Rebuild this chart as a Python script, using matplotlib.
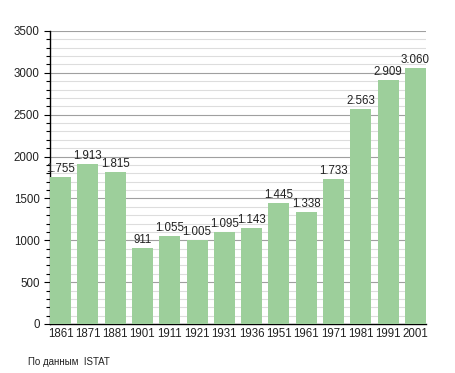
import matplotlib
matplotlib.use("Agg")
import matplotlib.pyplot as plt
from matplotlib.ticker import MultipleLocator

years = ["1861", "1871", "1881", "1901", "1911", "1921", "1931", "1936",
         "1951", "1961", "1971", "1981", "1991", "2001"]
population = [1755, 1913, 1815, 911, 1055, 1005, 1095, 1143,
              1445, 1338, 1733, 2563, 2909, 3060]
source_note = "По данным  ISTAT"

plt.rcParams['font.family'] = ['Liberation Sans', 'DejaVu Sans']

fig = plt.figure(figsize=(4.55, 3.73), dpi=100)
ax = fig.add_axes([50/455, 49/373, 376/455, 293/373])

w = 0.77
pos = range(len(years))
ax.bar(pos, population, width=w, color="#9dcf9b", zorder=3)
for x, v in zip(pos, population):
    lbl = f"{v:,}".replace(",", ".")
    ax.text(x, v + 25, lbl, ha="center", va="bottom", fontsize=8.3, color="#222222", zorder=4)

ax.set_xlim(-w/2, len(years) - 1 + w/2)
ax.set_ylim(0, 3500)
ax.set_xticks(list(pos))
ax.set_xticklabels(years, fontsize=8.3, color="#222222")
ax.yaxis.set_major_locator(MultipleLocator(500))
ax.yaxis.set_minor_locator(MultipleLocator(100))
ax.tick_params(axis="y", labelsize=8.3, labelcolor="#222222", length=4, width=0.8)
ax.tick_params(axis="y", which="minor", length=3, width=0.8)
ax.tick_params(axis="x", length=0, pad=3)
ax.grid(axis="y", which="major", color="#a0a0a0", lw=0.8, zorder=1)
ax.grid(axis="y", which="minor", color="#dddddd", lw=0.8, zorder=1)
for s in ["top", "right"]:
    ax.spines[s].set_visible(False)
ax.spines["left"].set_linewidth(1)
ax.spines["bottom"].set_linewidth(1)

fig.text(28/455, 1 - 362/373, source_note, fontsize=7, color="#222222", va="center")

fig.savefig("out.png", dpi=100)
